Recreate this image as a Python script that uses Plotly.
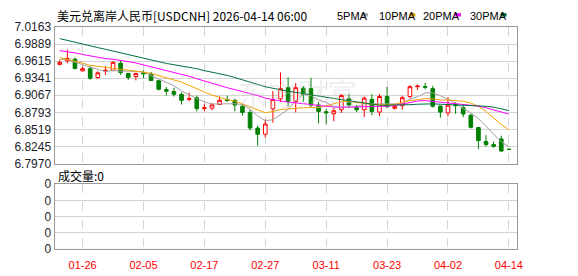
import plotly.graph_objects as go

# ---------------- data ----------------
dates = ["01-21","01-22","01-23","01-26","01-27","01-28","01-29","01-30",
         "02-02","02-03","02-04","02-05","02-06","02-09","02-10","02-11","02-12","02-13",
         "02-16","02-17","02-18","02-19","02-20","02-23","02-24","02-25","02-26","02-27",
         "03-02","03-03","03-04","03-05","03-06","03-09","03-10","03-11","03-12","03-13",
         "03-16","03-17","03-18","03-19","03-20","03-23","03-24","03-25","03-26","03-27",
         "03-30","03-31","04-01","04-02","04-03","04-06","04-07","04-08","04-09","04-10",
         "04-13","04-14"]

open_ = [6.9562,6.9619,6.9645,6.9458,6.9493,6.9351,6.9458,6.9467,6.9580,6.9417,
         6.9367,6.9427,6.9409,6.9300,6.9158,6.9127,6.9082,6.9001,6.9028,6.8853,
         6.8861,6.8919,6.8998,6.8986,6.8891,6.8792,6.8541,6.8442,6.8849,6.9010,
         6.9188,6.8968,6.9181,6.9173,6.8910,6.8803,6.8770,6.8834,6.9010,6.8869,
         6.8834,6.9001,6.8797,6.9047,6.8858,6.8899,6.9047,6.9204,6.9207,6.9173,
         6.8894,6.8782,6.8919,6.8869,6.8747,6.8549,6.8325,6.8275,6.8366,6.8200]
high = [6.9630,6.9798,6.9671,6.9528,6.9534,6.9452,6.9534,6.9610,6.9630,6.9427,
        6.9427,6.9467,6.9440,6.9315,6.9199,6.9188,6.9112,6.9112,6.9062,6.8934,
        6.8945,6.9047,6.9062,6.9010,6.8929,6.8834,6.8579,6.8678,6.9135,6.9432,
        6.9356,6.9265,6.9214,6.9348,6.8960,6.8849,6.8861,6.9086,6.9086,6.8910,
        6.9047,6.9086,6.9089,6.9199,6.8914,6.9062,6.9230,6.9239,6.9265,6.9219,
        6.8899,6.9036,6.8952,6.8919,6.8767,6.8549,6.8427,6.8325,6.8419,6.8200]
low = [6.9546,6.9580,6.9482,6.9452,6.9315,6.9336,6.9391,6.9452,6.9391,6.9315,
       6.9306,6.9341,6.9295,6.9143,6.9062,6.9047,6.8919,6.8971,6.8808,6.8808,
       6.8827,6.8910,6.8960,6.8808,6.8739,6.8503,6.8259,6.8389,6.8625,6.8960,
       6.8884,6.8792,6.8960,6.8861,6.8617,6.8605,6.8648,6.8782,6.8858,6.8797,
       6.8716,6.8747,6.8731,6.8858,6.8838,6.8834,6.9013,6.9153,6.9163,6.8869,
       6.8706,6.8731,6.8767,6.8716,6.8534,6.8206,6.8244,6.8224,6.8157,6.8199]
close = [6.9596,6.9656,6.9498,6.9493,6.9341,6.9427,6.9467,6.9595,6.9432,6.9351,
         6.9417,6.9412,6.9303,6.9163,6.9132,6.9082,6.8986,6.9013,6.8853,6.8866,
         6.8914,6.8986,6.8983,6.8910,6.8792,6.8541,6.8442,6.8605,6.8998,6.9173,
         6.8968,6.9188,6.9082,6.8910,6.8808,6.8785,6.8818,6.9062,6.8910,6.8834,
         6.9021,6.8808,6.9047,6.8884,6.8884,6.9028,6.9204,6.9214,6.9196,6.8891,
         6.8797,6.8907,6.8899,6.8767,6.8553,6.8340,6.8275,6.8249,6.8173,6.8199]

ma5 = [6.9645,6.9638,6.9600,6.9554,6.9517,6.9482,6.9446,6.9464,6.9452,6.9455,
       6.9452,6.9441,6.9383,6.9328,6.9286,6.9219,6.9134,6.9076,6.9013,6.8960,
       6.8926,6.8926,6.8920,6.8931,6.8917,6.8843,6.8733,6.8658,6.8675,6.8751,
       6.8837,6.8986,6.9082,6.9064,6.8990,6.8954,6.8881,6.8876,6.8876,6.8882,
       6.8929,6.8926,6.8923,6.8919,6.8928,6.8929,6.9009,6.9042,6.9105,6.9106,
       6.9060,6.9001,6.8939,6.8852,6.8785,6.8693,6.8567,6.8436,6.8317,6.8247]
ma10 = [6.9671,6.9645,6.9622,6.9584,6.9546,6.9531,6.9519,6.9504,6.9485,6.9473,
        6.9458,6.9438,6.9417,6.9382,6.9351,6.9322,6.9277,6.9225,6.9167,6.9121,
        6.9070,6.9033,6.8998,6.8974,6.8929,6.8881,6.8827,6.8786,6.8806,6.8837,
        6.8847,6.8861,6.8866,6.8869,6.8870,6.8894,6.8926,6.8966,6.8969,6.8948,
        6.8943,6.8919,6.8914,6.8910,6.8922,6.8949,6.8983,6.8995,6.9012,6.9009,
        6.8990,6.8993,6.8981,6.8969,6.8942,6.8888,6.8808,6.8698,6.8597,6.8514]
ma20 = [6.9782,6.9767,6.9747,6.9721,6.9698,6.9676,6.9656,6.9645,6.9630,6.9607,
        6.9584,6.9554,6.9531,6.9501,6.9470,6.9440,6.9409,6.9371,6.9333,6.9295,
        6.9257,6.9219,6.9188,6.9158,6.9130,6.9097,6.9062,6.9021,6.8993,6.8975,
        6.8957,6.8948,6.8932,6.8917,6.8902,6.8887,6.8879,6.8876,6.8878,6.8876,
        6.8881,6.8876,6.8881,6.8891,6.8902,6.8923,6.8952,6.8974,6.8981,6.8969,
        6.8957,6.8942,6.8934,6.8926,6.8916,6.8894,6.8866,6.8829,6.8795,6.8765]
ma30 = [6.9976,6.9945,6.9916,6.9889,6.9858,6.9831,6.9805,6.9775,6.9747,6.9718,
        6.9688,6.9660,6.9630,6.9600,6.9577,6.9557,6.9539,6.9516,6.9493,6.9462,
        6.9440,6.9417,6.9386,6.9351,6.9313,6.9275,6.9237,6.9204,6.9179,6.9153,
        6.9130,6.9114,6.9097,6.9076,6.9056,6.9035,6.9015,6.8995,6.8975,6.8955,
        6.8937,6.8916,6.8907,6.8907,6.8907,6.8910,6.8916,6.8923,6.8931,6.8929,
        6.8923,6.8919,6.8917,6.8908,6.8899,6.8896,6.8890,6.8876,6.8847,6.8821]

volume = [0] * 60

price_ticks = [7.0163, 6.9889, 6.9615, 6.9341, 6.9067, 6.8793, 6.8519, 6.8245, 6.7970]
price_labels = ["7.0163", "6.9889", "6.9615", "6.9341", "6.9067", "6.8793", "6.8519", "6.8245", "6.7970"]
x_label_dates = ["01-26", "02-05", "02-17", "02-27", "03-11", "03-23", "04-02", "04-14"]
vol_labels = ["0", "0", "0", "0", "0"]

title_text = "美元兑离岸人民币[USDCNH] 2026-04-14 06:00"
vol_text = "成交量:0"
ma_names = ["5PMA", "10PMA", "20PMA", "30PMA"]
ma_colors = ["#a0a0a0", "#f5a000", "#ff00ff", "#00703c"]

# ---------------- figure ----------------
W, H = 578, 276
idx = list(range(len(dates)))
tick_idx = [dates.index(d) for d in x_label_dates]

def px(x):
    return x / W

def py(y):
    return 1 - y / H

fig = go.Figure()

fig.add_trace(go.Candlestick(
    x=idx, open=open_, high=high, low=low, close=close,
    increasing=dict(line=dict(color="#ff0000", width=1), fillcolor="#ffffff"),
    decreasing=dict(line=dict(color="#008000", width=1), fillcolor="#008000"),
    whiskerwidth=0, showlegend=False, hoverinfo="skip",
    xaxis="x", yaxis="y",
))

for name, vals, col in zip(ma_names, [ma5, ma10, ma20, ma30], ma_colors):
    fig.add_trace(go.Scatter(
        x=idx, y=vals, mode="lines", name=name,
        line=dict(color=col, width=1), showlegend=False, hoverinfo="skip",
        xaxis="x", yaxis="y",
    ))

fig.add_trace(go.Bar(x=idx, y=volume, marker_color="#008000", showlegend=False,
                     hoverinfo="skip", xaxis="x2", yaxis="y2"))

xdom = [px(55), px(522)]
xr = [-0.685, 60.13]
grid = "#d4d4d4"
frame = "#999999"

common_x = dict(domain=xdom, range=xr, tickmode="array", tickvals=tick_idx,
                showgrid=True, gridcolor=grid, griddash="dash", gridwidth=1,
                showline=True, mirror=True, linecolor=frame, linewidth=1,
                zeroline=False, ticks="", fixedrange=True)

fig.update_layout(
    width=W, height=H, autosize=False,
    margin=dict(l=0, r=0, t=0, b=0),
    paper_bgcolor="white", plot_bgcolor="white",
    hovermode=False, showlegend=False, boxgap=0.32,
    xaxis=dict(**common_x, anchor="y", showticklabels=False,
               rangeslider=dict(visible=False)),
    yaxis=dict(domain=[py(165), py(21)], range=[price_ticks[-1], price_ticks[0]],
               tickmode="array", tickvals=price_ticks, ticktext=price_labels,
               showgrid=True, gridcolor=grid, gridwidth=1,
               showline=True, mirror=True, linecolor=frame, linewidth=1,
               zeroline=False, ticks="", fixedrange=True,
               tickfont=dict(family="Liberation Sans, Arial", size=12, color="#1c1c2c")),
    xaxis2=dict(**common_x, anchor="y2", showticklabels=True,
                ticktext=x_label_dates, ticklabelstandoff=6,
                tickfont=dict(family="Liberation Sans, Arial", size=11, color="#ff0000")),
    yaxis2=dict(domain=[py(255), py(186.7)], range=[0, 4],
                tickmode="array", tickvals=[0, 1, 2, 3, 4], ticktext=vol_labels,
                showgrid=True, gridcolor=grid, gridwidth=1,
                showline=True, mirror=True, linecolor=frame, linewidth=1,
                zeroline=False, ticks="", fixedrange=True,
                tickfont=dict(family="Liberation Sans, Arial", size=12, color="#1c1c2c")),
)

annos = []
cjk = "Noto Sans CJK SC"
annos.append(dict(x=px(55), y=py(9), xref="paper", yref="paper", xanchor="left",
                  yanchor="middle", text=title_text, showarrow=False,
                  font=dict(family=cjk, size=12, color="#000000")))
annos.append(dict(x=px(56), y=py(178), xref="paper", yref="paper", xanchor="left",
                  yanchor="middle", text=vol_text, showarrow=False,
                  font=dict(family=cjk, size=12, color="#000000")))
# watermark
annos.append(dict(x=px(300), y=py(90), xref="paper", yref="paper", xanchor="center",
                  yanchor="middle", text="东方财富", showarrow=False,
                  font=dict(family=cjk, size=30, color="rgba(200,200,200,0.30)")))

legend_text_x = [338, 380, 425, 472]
legend_box_x = [365, 413, 459, 505]
shapes = []
for name, col, tx, bx in zip(ma_names, ma_colors, legend_text_x, legend_box_x):
    annos.append(dict(x=px(tx), y=py(9), xref="paper", yref="paper", xanchor="left",
                      yanchor="middle", text=name, showarrow=False,
                      font=dict(family="Liberation Sans, Arial", size=11, color="#000000")))
    shapes.append(dict(type="rect", xref="paper", yref="paper",
                       x0=px(bx), x1=px(bx + 6), y0=py(10), y1=py(6.5),
                       fillcolor=col, line=dict(width=0)))

fig.update_layout(annotations=annos, shapes=shapes)

fig.write_html("out.html")
